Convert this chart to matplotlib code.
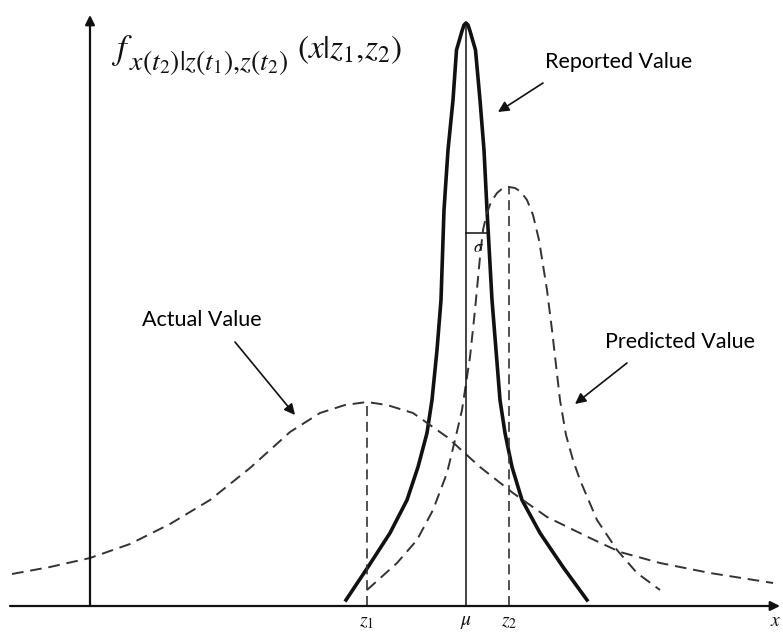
"""
Conditional density sketch: prior (actual), measurement-based (predicted)
and combined (reported) densities along the x axis.
"""
import matplotlib
matplotlib.use("Agg")
import matplotlib.pyplot as plt

plt.rcParams["mathtext.fontset"] = "stix"

# ─── Curve samples (x position, density height) ─────────
reported_x = [2.56, 2.78, 3.00, 3.17, 3.28, 3.37, 3.42, 3.47, 3.51, 3.54, 3.58,
              3.63, 3.665, 3.70, 3.72, 3.74, 3.76, 3.78, 3.80, 3.82, 3.855,
              3.90, 3.94, 3.97, 4.02, 4.06, 4.10, 4.15, 4.22, 4.32, 4.50, 4.73, 4.97]
reported_y = [0.06, 0.39, 0.73, 1.06, 1.39, 1.73, 2.06, 2.56, 3.06, 3.96, 4.56,
              5.06, 5.56, 5.68, 5.75, 5.81, 5.83, 5.81, 5.75, 5.68, 5.56,
              5.06, 4.56, 3.96, 3.06, 2.56, 2.06, 1.73, 1.39, 1.06, 0.73, 0.39, 0.06]

predicted_x = [2.77, 3.07, 3.27, 3.43, 3.57, 3.65, 3.72, 3.80, 3.85, 3.90, 3.93,
               3.97, 4.01, 4.07, 4.13, 4.19, 4.25, 4.31, 4.37, 4.43, 4.49, 4.57,
               4.62, 4.66, 4.70, 4.76, 4.83, 4.90, 5.07, 5.27, 5.47, 5.70]
predicted_y = [0.16, 0.43, 0.66, 0.96, 1.33, 1.66, 1.96, 2.49, 2.96, 3.49, 3.76,
               3.93, 4.04, 4.13, 4.18, 4.19, 4.18, 4.14, 4.06, 3.91, 3.66, 3.16,
               2.76, 2.41, 2.06, 1.71, 1.46, 1.26, 0.86, 0.56, 0.33, 0.16]

actual_x = [-0.78, -0.40, 0.00, 0.40, 0.80, 1.20, 1.60, 2.00, 2.30, 2.55, 2.77,
            2.97, 3.23, 3.57, 3.90, 4.23, 4.57, 5.00, 5.30, 5.70, 6.20, 6.83]
actual_y = [0.32, 0.39, 0.48, 0.62, 0.82, 1.06, 1.38, 1.74, 1.93, 2.01, 2.04,
            2.01, 1.93, 1.69, 1.39, 1.13, 0.89, 0.68, 0.54, 0.43, 0.33, 0.23]

# Markers on the x axis
z1, z1_height = 2.77, 2.04
mu, mu_height = 3.76, 5.83
z2, z2_height = 4.19, 4.19
sigma = 0.23
sigma_level = 3.73

tick_positions = [z1, mu, z2]
tick_labels = [r"$z_1$", r"$\mu$", r"$z_2$"]

INK = "#111111"
DASH_INK = "#333333"
DASHES = (0, (6, 3.5))

fig = plt.figure(figsize=(7.83, 6.32), dpi=100)
ax = fig.add_axes([0, 0, 1, 1])
ax.set_xlim(-0.90, 6.93)
ax.set_ylim(-0.26, 6.06)
ax.axis("off")

# ─── Axes with arrow heads ─────────────────────────────
arrow_kw = dict(arrowstyle="-|>", color=INK, lw=1.6, mutation_scale=14,
                shrinkA=0, shrinkB=0)
ax.annotate("", xy=(6.90, 0), xytext=(-0.80, 0), arrowprops=arrow_kw)
ax.annotate("", xy=(0, 5.91), xytext=(0, 0), arrowprops=arrow_kw)

# ─── Densities ─────────────────────────────────────────
ax.plot(reported_x, reported_y, color=INK, lw=2.6, solid_joinstyle="round")
ax.plot(predicted_x, predicted_y, color=DASH_INK, lw=1.4, linestyle=DASHES)
ax.plot(actual_x, actual_y, color=DASH_INK, lw=1.4, linestyle=DASHES)

# Vertical guides at z1, mu, z2 and the sigma bar
ax.plot([mu, mu], [0, mu_height], color=INK, lw=1.1)
ax.plot([z1, z1], [0, z1_height], color=DASH_INK, lw=1.2, linestyle=DASHES)
ax.plot([z2, z2], [0, z2_height], color=DASH_INK, lw=1.2, linestyle=DASHES)
ax.plot([mu, mu + sigma], [sigma_level, sigma_level], color=INK, lw=1.1)
ax.text(mu + sigma / 2 + 0.01, sigma_level - 0.05, r"$\sigma$", ha="center",
        va="top", fontsize=12, color=INK)

for pos, lab in zip(tick_positions, tick_labels):
    ax.text(pos, -0.06, lab, ha="center", va="top", fontsize=14, color=INK)
ax.text(6.86, -0.05, r"$x$", ha="center", va="top", fontsize=14, color=INK)

# ─── Density label f_{...}(x|z1,z2) ───────────────────
ax.text(0.21, 5.47, r"$f$", ha="left", va="baseline", fontsize=25, color=INK)
ax.text(0.39, 5.36, r"$x(t_2)|z(t_1){,}z(t_2)$", ha="left", va="baseline",
        fontsize=20, color=INK)
ax.text(2.07, 5.48, r"$(x|z_1{,}z_2)$", ha="left", va="baseline",
        fontsize=24, color=INK)

# ─── Callouts ──────────────────────────────────────────
callout_kw = dict(arrowstyle="-|>", color=INK, lw=1.2, mutation_scale=16,
                  shrinkA=0, shrinkB=0)
label_kw = dict(ha="center", va="center", fontsize=15.5, family="Lato", color="black")

ax.text(5.29, 5.44, "Reported Value", **label_kw)
ax.annotate("", xy=(4.08, 4.94), xytext=(4.53, 5.23), arrowprops=callout_kw)

ax.text(1.12, 2.86, "Actual Value", **label_kw)
ax.annotate("", xy=(2.05, 1.91), xytext=(1.45, 2.64), arrowprops=callout_kw)

ax.text(5.90, 2.64, "Predicted Value", **label_kw)
ax.annotate("", xy=(4.85, 2.02), xytext=(5.37, 2.43), arrowprops=callout_kw)

fig.savefig("out.png", dpi=100, facecolor="white")
plt.close(fig)
